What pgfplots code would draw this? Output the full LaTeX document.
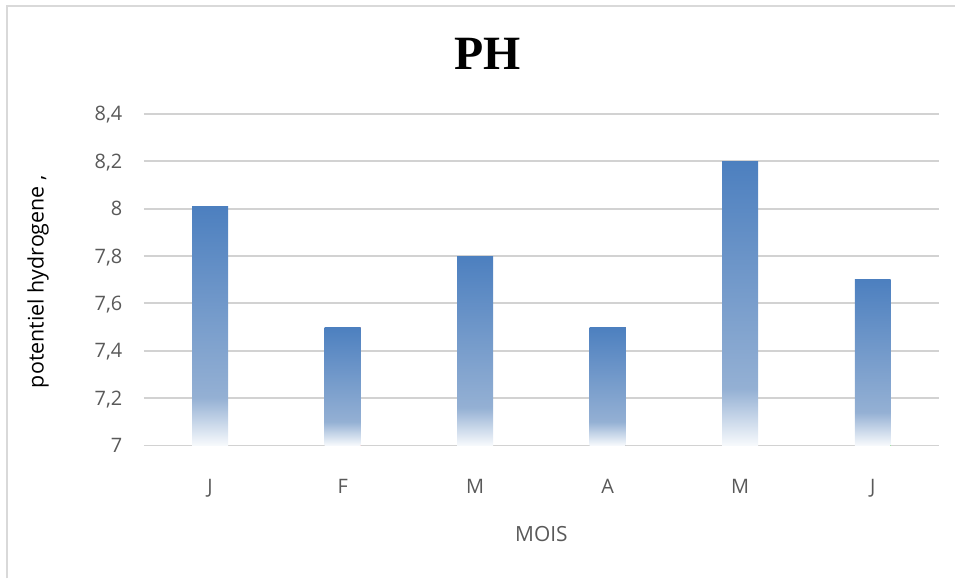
\documentclass[border=0pt]{standalone}
\usepackage{pgfplots}
\pgfplotsset{compat=1.18}
\usepackage{fontspec}
\setmainfont{Open Sans}
\newfontfamily\titlefont{Liberation Serif}

\definecolor{gridgray}{RGB}{210,210,210}
\definecolor{framegray}{RGB}{217,217,217}
\definecolor{labgray}{RGB}{89,89,89}

% bar fill: blue at the top fading to white at the base (bbox maps to 25bp..75bp)
\pgfdeclareverticalshading{barfade}{100bp}{%
  rgb(0bp)=(0.97,0.98,0.99);
  rgb(25bp)=(0.97,0.98,0.99);
  rgb(35bp)=(0.58,0.69,0.83);
  rgb(75bp)=(0.30,0.50,0.75);
  rgb(100bp)=(0.30,0.50,0.75)}

\begin{document}
\begin{tikzpicture}
  % chart frame (left and top edge only are visible)
  \path (-144bp,-133bp) rectangle (812bp,446bp);
  \draw[framegray, line width=2bp] (-137bp,-133bp) -- (-137bp,440bp) -- (812bp,440bp);

  \begin{axis}[
    scale only axis,
    width=796bp, height=332bp,
    ybar, bar width=36bp, bar shift=0pt,
    xmin=-0.5, xmax=5.5,
    ymin=0, ymax=1.4,
    y filter/.expression={y-7},
    xtick={0,1,2,3,4,5},
    xticklabels={J,F,M,A,M,J},
    ytick={0,0.2,0.4,0.6,0.8,1.0,1.2,1.4},
    yticklabels={7,{7,2},{7,4},{7,6},{7,8},8,{8,2},{8,4}},
    ymajorgrids,
    major grid style={draw=gridgray, line width=1.8bp},
    axis x line*=bottom,
    axis y line*=left,
    x axis line style={draw=gridgray, line width=1.8bp, -},
    y axis line style={draw=none},
    major tick length=0pt,
    tick label style={font=\fontsize{20}{22}\selectfont, text=labgray,
                      text height=14bp, text depth=0pt},
    xticklabel style={anchor=center, yshift=-41bp},
    yticklabel style={anchor=east, xshift=-18bp},
    every axis plot/.append style={draw=none, shading=barfade},
    clip=false,
  ]
    % one plot per month so that each bar gets its own gradient
    \addplot coordinates {(0,8.01)};
    \addplot coordinates {(1,7.5)};
    \addplot coordinates {(2,7.8)};
    \addplot coordinates {(3,7.5)};
    \addplot coordinates {(4,8.2)};
    \addplot coordinates {(5,7.7)};
  \end{axis}

  \node[font=\titlefont\bfseries\fontsize{48}{50}\selectfont] at (344bp,392bp) {PH};
  \node[font=\fontsize{21}{23}\selectfont, text=labgray] at (398bp,-89bp) {MOIS};
  \node[font=\fontsize{21.5}{23}\selectfont, rotate=90] at (-106bp,164bp) {potentiel hydrogene ,};
\end{tikzpicture}
\end{document}
